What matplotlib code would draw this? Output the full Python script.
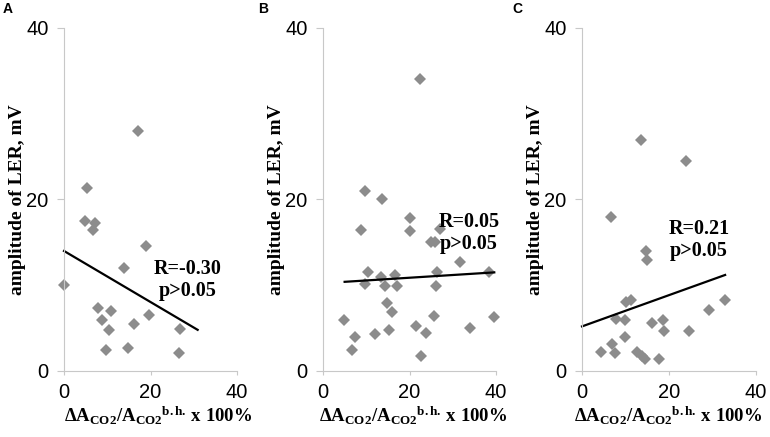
import matplotlib
matplotlib.use("Agg")
from matplotlib import pyplot as plt

plt.rcParams["font.family"] = ["Liberation Sans", "DejaVu Sans"]
plt.rcParams["mathtext.fontset"] = "custom"
plt.rcParams["mathtext.rm"] = "Liberation Serif:bold"
plt.rcParams["mathtext.it"] = "Liberation Serif:bold"
plt.rcParams["mathtext.bf"] = "Liberation Serif:bold"
plt.rcParams["mathtext.default"] = "rm"

# panel A
a_x = [0, 17.1, 5.4, 4.9, 7.1, 6.7, 18.9, 13.8, 7.9, 10.8, 8.9, 10.3, 16.3, 19.7, 26.8, 9.6, 14.7, 26.5]
a_y = [10.0, 28.0, 21.3, 17.5, 17.3, 16.5, 14.6, 12.0, 7.4, 7.0, 5.9, 4.8, 5.5, 6.5, 4.9, 2.4, 2.7, 2.1]
a_fit_x = [0, 30.9]
a_fit_y = [14.0, 4.8]

# panel B
b_x = [22.4, 9.8, 13.7, 8.7, 20.0, 20.0, 27.1, 25.0, 26.0, 31.7, 10.4, 38.4, 26.4, 13.4, 16.7, 9.6,
       14.3, 17.0, 26.2, 14.8, 16.0, 4.9, 25.6, 39.5, 7.5, 12.1, 15.3, 21.4, 23.9, 33.9, 6.6, 22.6]
b_y = [34.0, 21.0, 20.1, 16.5, 17.8, 16.3, 16.6, 15.0, 15.0, 12.7, 11.6, 11.6, 11.6, 11.0, 11.2, 10.1,
       9.9, 9.9, 9.9, 7.9, 6.9, 6.0, 6.4, 6.3, 4.0, 4.3, 4.8, 5.2, 4.4, 5.0, 2.4, 1.8]
b_fit_x = [5.0, 39.6]
b_fit_y = [10.4, 11.5]

# panel C
c_x = [13.5, 23.9, 6.6, 14.8, 14.9, 11.2, 10.0, 32.9, 29.3, 7.9, 9.8, 18.6, 16.2, 18.8, 24.7, 9.9,
       7.0, 4.4, 7.6, 12.6, 13.7, 14.4, 17.8]
c_y = [26.9, 24.5, 18.0, 14.0, 12.9, 8.3, 8.0, 8.3, 7.1, 6.1, 6.0, 6.0, 5.6, 4.7, 4.7, 4.0,
       3.1, 2.2, 2.1, 2.2, 1.7, 1.4, 1.4]
c_fit_x = [0, 32.9]
c_fit_y = [5.2, 11.2]

panel_letters = ["A", "B", "C"]
stats = [("R=-0.30", "p>0.05"), ("R=0.05", "p>0.05"), ("R=0.21", "p>0.05")]
ticks = [0, 20, 40]

W, H = 770, 437
fig = plt.figure(figsize=(W / 100, H / 100), dpi=100)

# left px, width px, stats text centre px, letter x px, x-label centre px
panels = [
    (a_x, a_y, a_fit_x, a_fit_y, 64, 173, (188, 280), 3, 158),
    (b_x, b_y, b_fit_x, b_fit_y, 323, 173, (469, 233), 258, 413),
    (c_x, c_y, c_fit_x, c_fit_y, 582, 174, (699, 240), 512, 668),
]

for i, (xs, ys, fx, fy, left, width, txt_pos, letter_x, xlab_c) in enumerate(panels):
    ax = fig.add_axes([left / W, 1 - 371 / H, width / W, 343 / H])
    ax.plot(xs, ys, "D", color="#8c8c8c", markersize=6.6, markeredgewidth=0, clip_on=False)
    ax.plot(fx, fy, color="black", linewidth=1.6, clip_on=False)
    ax.set_xlim(0, 40)
    ax.set_ylim(0, 40)
    ax.set_xticks(ticks)
    ax.set_yticks(ticks)
    for s in ["top", "right"]:
        ax.spines[s].set_visible(False)
    for s in ["left", "bottom"]:
        ax.spines[s].set_color("#c8c8c8")
        ax.spines[s].set_linewidth(0.8)
    ax.tick_params(axis="y", length=5, width=0.8, color="#c8c8c8", labelsize=14.5, pad=6)
    ax.tick_params(axis="x", length=3, width=0.8, color="#c8c8c8", labelsize=14.5, pad=6)
    ax.set_ylabel("amplitude of LER, mV", family="Liberation Serif", fontweight="bold",
                  fontsize=14, labelpad=0)
    ax.set_xlabel(r"$\Delta A_{CO2}/A_{CO2}{}^{b.h.}\,x\ 100\%$", fontsize=13.5, labelpad=2,
                  x=(xlab_c - left) / width)
    fig.text(txt_pos[0] / W, 1 - txt_pos[1] / H, stats[i][0] + "\n" + stats[i][1],
             family="Liberation Serif", fontweight="bold", fontsize=14.5,
             ha="center", va="center", linespacing=1.15)
    fig.text(letter_x / W, 1 - 16 / H, panel_letters[i], fontweight="bold", fontsize=10,
             ha="left", va="bottom")

fig.savefig("out.png", dpi=100)
